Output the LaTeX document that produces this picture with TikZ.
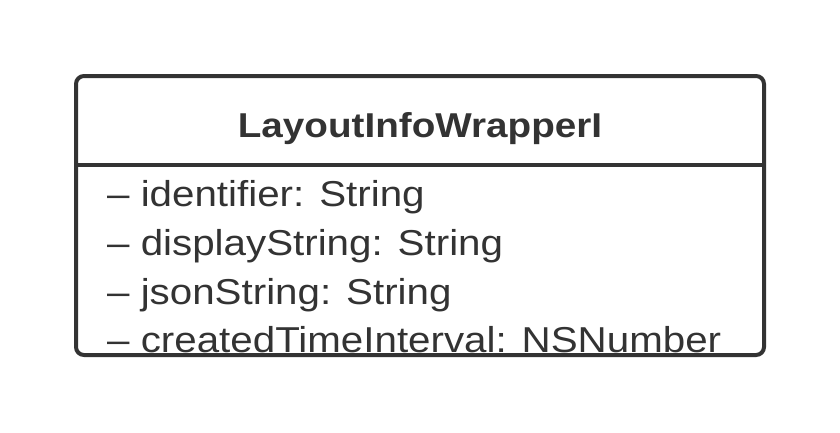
\documentclass[tikz,border=0pt]{standalone}
\usepackage{fontspec}
\setmainfont[FakeStretch=1.12]{Liberation Sans}
\usepackage{xcolor}
\definecolor{umlgray}{HTML}{333333}
\tikzset{
  classbox/.style={draw=umlgray, line width=4pt, rounded corners=8pt},
  classname/.style={font=\fontsize{34.5}{40}\selectfont\bfseries, text=umlgray, inner sep=0pt, anchor=base},
  attr/.style={font=\fontsize{36}{41}\selectfont, text=umlgray, inner sep=0pt, anchor=base west},
  sep/.style={draw=umlgray, line width=4pt}
}

\begin{document}
\begin{tikzpicture}[x=1pt,y=-1pt]
  \useasboundingbox (0,0) rectangle (840,432);
  \node[classname] (name) at (420,137) {LayoutInfoWrapperI};

  \node[attr] (a1) at (107,206.5) {– identifier: String};
  \node[attr] (a2) at (107,255.5) {– displayString: String};
  \node[attr] (a3) at (107,304) {– jsonString: String};
  \node[attr] (a4) at (107,352.5) {– createdTimeInterval: NSNumber};

  \coordinate (nw) at (76,76);
  \coordinate (se) at (764,355);
  \draw[classbox] (nw) rectangle (se);
  \draw[sep] (nw |- 0,165) -- (se |- 0,165);
\end{tikzpicture}
\end{document}
